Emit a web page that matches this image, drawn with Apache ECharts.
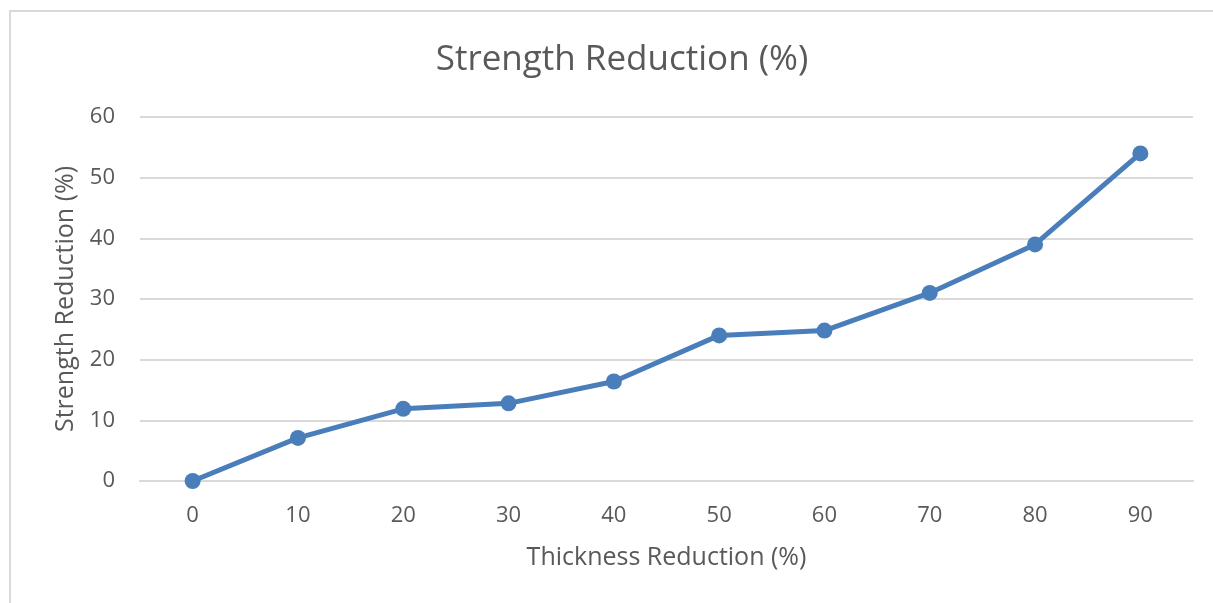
<!DOCTYPE html>
<html>
<head>
<meta charset="utf-8">
<script src="https://cdn.jsdelivr.net/npm/echarts@6/dist/echarts.min.js"></script>
<style>
  html, body { margin: 0; padding: 0; background: #ffffff; overflow: hidden; }
  #frame { position: absolute; left: 9px; top: 10px; width: 1240px; height: 640px; border: 2px solid #d9d9d9; box-sizing: border-box; }
  #chart { position: absolute; left: 0; top: 0; width: 1213px; height: 603px; }
</style>
</head>
<body>
<div id="frame"></div>
<div id="chart"></div>
<script>
// Thickness reduction categories (%) and the measured strength reduction (%)
const thicknessReduction = ['0', '10', '20', '30', '40', '50', '60', '70', '80', '90'];
const strengthReduction = [0, 7.1, 11.9, 12.8, 16.4, 24, 24.8, 31, 39, 54];

const textColor = '#595959';
const fontFamily = '"Open Sans", "Noto Sans", sans-serif';

const chart = echarts.init(document.getElementById('chart'), null, { renderer: 'canvas' });
chart.setOption({
  animation: false,
  backgroundColor: 'transparent',
  title: {
    text: 'Strength Reduction (%)',
    left: 617, top: 38,
    textAlign: 'center',
    textStyle: { color: textColor, fontFamily, fontSize: 35, fontWeight: 'normal' }
  },
  grid: { left: 140, right: 20, top: 117, bottom: 122 },
  xAxis: {
    type: 'category',
    data: thicknessReduction,
    boundaryGap: true,
    name: 'Thickness Reduction (%)',
    nameLocation: 'middle',
    nameGap: 64,
    nameTextStyle: { color: textColor, fontFamily, fontSize: 25 },
    axisLine: { show: true, lineStyle: { color: '#d9d9d9', width: 2 } },
    axisTick: { show: false },
    axisLabel: { color: textColor, fontFamily, fontSize: 22, margin: 24 }
  },
  yAxis: {
    type: 'value',
    min: 0, max: 60, interval: 10,
    name: 'Strength Reduction (%)',
    nameLocation: 'middle',
    nameGap: 62,
    nameTextStyle: { color: textColor, fontFamily, fontSize: 25 },
    axisLine: { show: false },
    axisTick: { show: false },
    axisLabel: { color: textColor, fontFamily, fontSize: 22, margin: 25 },
    splitLine: { lineStyle: { color: '#d9d9d9', width: 2 } }
  },
  series: [{
    type: 'line',
    data: strengthReduction,
    symbol: 'circle',
    symbolSize: 16,
    lineStyle: { color: '#4a7ebb', width: 5 },
    itemStyle: { color: '#4a7ebb' }
  }]
});
</script>
</body>
</html>
